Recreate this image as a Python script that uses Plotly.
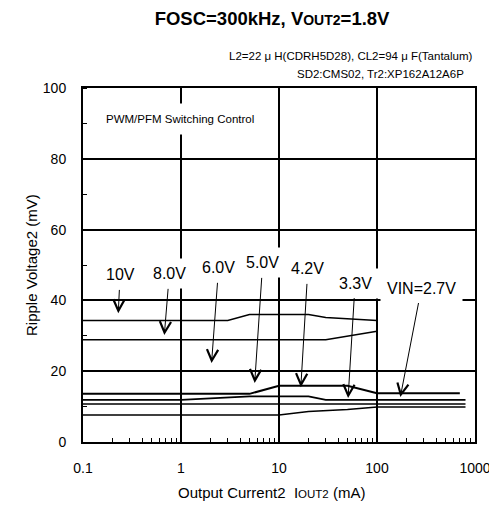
import math
import plotly.graph_objects as go

# ---- data ----
current_10v = [0.1, 3, 5, 20, 30, 100]
ripple_10v = [34.3, 34.3, 36.0, 36.0, 35.2, 34.3]
current_8v = [0.1, 30, 100]
ripple_8v = [28.9, 28.9, 31.3]
current_c = [0.1, 5, 10, 50, 100, 700]
ripple_c = [13.6, 13.6, 15.9, 15.9, 13.8, 13.8]
current_d = [0.1, 1, 5, 20, 30, 800]
ripple_d = [11.9, 11.9, 12.9, 12.9, 11.9, 11.9]
current_e = [0.1, 800]
ripple_e = [10.7, 10.7]
current_f = [0.1, 10, 20, 50, 100, 800]
ripple_f = [7.6, 7.6, 8.6, 9.2, 9.9, 9.9]

label_texts = ["10V", "8.0V", "6.0V", "5.0V", "4.2V", "3.3V", "VIN=2.7V"]
tip_current = [0.229, 0.676, 2.05, 5.65, 16.7, 50.7, 173]
tip_ripple = [36.4, 30.2, 22.3, 16.7, 15.5, 12.4, 12.7]
text_current = [0.239, 0.76, 2.42, 6.82, 19.7, 59.8, 284]
text_ripple = [47.2, 47.5, 49.2, 50.6, 48.9, 44.9, 43.5]

x_tickvals = [0.1, 1, 10, 100, 1000]
x_ticktext = ["0.1", "1", "10", "100", "1000"]
y_tickvals = [0, 20, 40, 60, 80, 100]
y_ticktext = ["0", "20", "40", "60", "80", "100"]

FONT = "Liberation Sans, Arial, sans-serif"

fig = go.Figure()
series = [
    (current_10v, ripple_10v, 1.5),
    (current_8v, ripple_8v, 1.5),
    (current_c, ripple_c, 2.0),
    (current_d, ripple_d, 1.7),
    (current_e, ripple_e, 1.5),
    (current_f, ripple_f, 1.5),
]
for xs, ys, w in series:
    fig.add_trace(go.Scatter(x=xs, y=ys, mode="lines",
                             line=dict(color="black", width=w),
                             showlegend=False, hoverinfo="skip"))

annotations = []
for t, tx, ty, lx, ly in zip(label_texts, tip_current, tip_ripple, text_current, text_ripple):
    annotations.append(dict(
        x=math.log10(tx), y=ty, xref="x", yref="y",
        ax=math.log10(lx), ay=ly, axref="x", ayref="y",
        text=t, showarrow=True, arrowhead=5, arrowsize=2.2, arrowwidth=1.0,
        arrowcolor="black", bgcolor="white", borderpad=6,
        xanchor="center", yanchor="middle",
        font=dict(family=FONT, size=16, color="black")))

annotations += [
    dict(text="PWM/PFM Switching Control", xref="paper", yref="paper",
         x=0.2474, y=0.912, xanchor="center", yanchor="middle",
         showarrow=False, bgcolor="white", borderpad=9,
         font=dict(family=FONT, size=11.5, color="black")),
    dict(text="L2=22 \u03bc H(CDRH5D28), CL2=94 \u03bc F(Tantalum)", xref="paper", yref="paper",
         x=1.0, y=1.090, xanchor="right", yanchor="middle", showarrow=False,
         font=dict(family=FONT, size=11.5, color="black")),
    dict(text="SD2:CMS02, Tr2:XP162A12A6P", xref="paper", yref="paper",
         x=0.977, y=1.040, xanchor="right", yanchor="middle", showarrow=False,
         font=dict(family=FONT, size=11.5, color="black")),
    dict(text="Ripple Voltage2 (mV)", xref="paper", yref="paper",
         x=-0.1327, y=0.5, xanchor="center", yanchor="middle",
         textangle=-90, showarrow=False,
         font=dict(family=FONT, size=15, color="black")),
    dict(text="Output Current2  I<span style='font-size:11.5px'>OUT2</span> (mA)",
         xref="paper", yref="paper", x=0.482, y=-0.144,
         xanchor="center", yanchor="middle", showarrow=False,
         font=dict(family=FONT, size=15, color="black")),
]

minor_x = [m * 10 ** k for k in range(-1, 3) for m in range(2, 10)]

# page body has an 8px default margin, so the figure is 8px smaller each way
fig.update_layout(
    width=489, height=502,
    margin=dict(l=75, r=22, t=80, b=68, autoexpand=False),
    paper_bgcolor="white", plot_bgcolor="white",
    title=dict(text="<b>FOSC=300kHz, V<span style='font-size:14px'>OUT2</span>=1.8V</b>",
               x=0.540, y=0.980, xanchor="center", yanchor="middle",
               font=dict(family=FONT, size=18.5, color="black")),
    annotations=annotations,
    xaxis=dict(type="log", range=[-1, 3], tickvals=x_tickvals, ticktext=x_ticktext,
               showgrid=True, gridcolor="black", gridwidth=1.5, automargin=False,
               showline=True, linecolor="black", linewidth=2, mirror=True,
               ticks="", ticklabelstandoff=12, zeroline=False,
               tickfont=dict(family=FONT, size=14, color="black"),
               minor=dict(tickvals=minor_x, ticks="inside", ticklen=4,
                          tickcolor="black", tickwidth=1, showgrid=False)),
    yaxis=dict(range=[0, 100], tickvals=y_tickvals, ticktext=y_ticktext,
               showgrid=True, gridcolor="black", gridwidth=1.5, automargin=False,
               showline=True, linecolor="black", linewidth=2, mirror=True,
               ticks="", ticklabelstandoff=12, zeroline=False,
               tickfont=dict(family=FONT, size=14, color="black"),
               minor=dict(dtick=10, ticks="inside", ticklen=4,
                          tickcolor="black", tickwidth=1, showgrid=False)),
)

fig.write_html("out.html")
